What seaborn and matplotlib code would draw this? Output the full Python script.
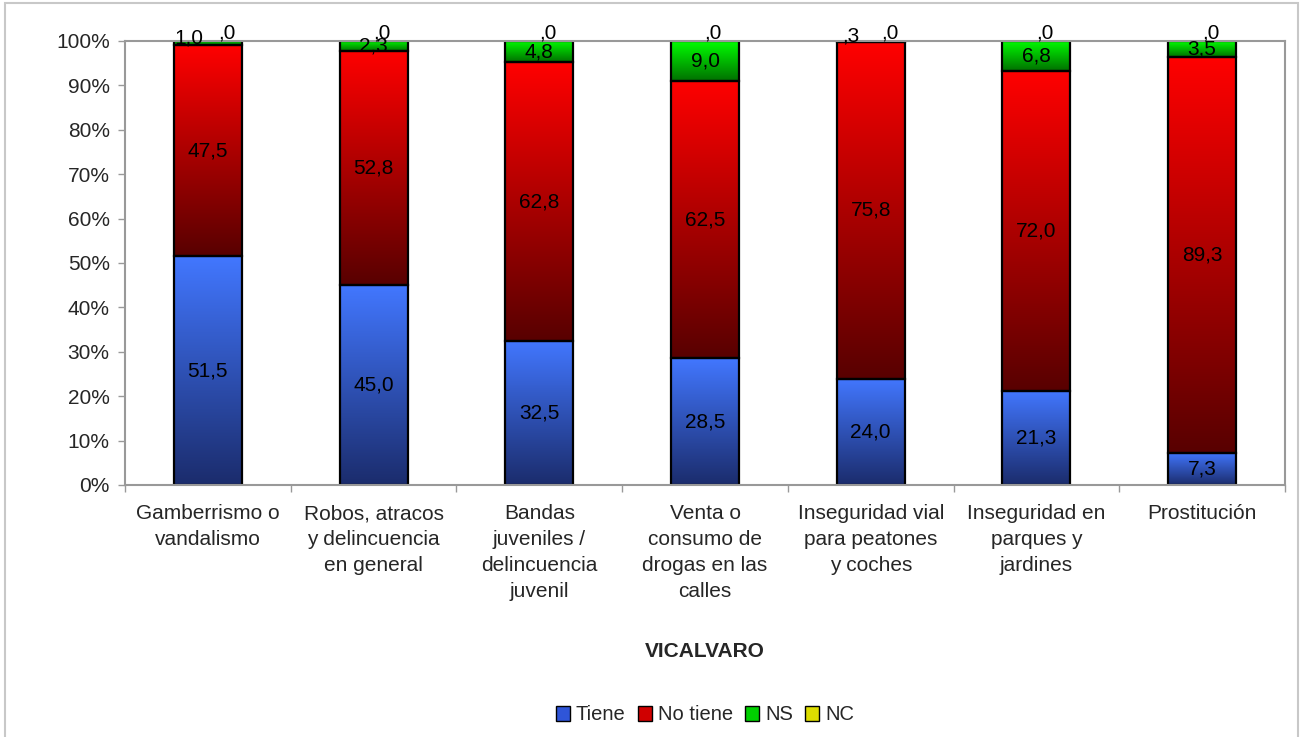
import numpy as np
import pandas as pd
import seaborn as sns
import matplotlib.pyplot as plt
from matplotlib.colors import LinearSegmentedColormap
from matplotlib.patches import Patch, Rectangle


# ==================== Data ====================

categories = [
    "Gamberrismo o\nvandalismo",
    "Robos, atracos\ny delincuencia\nen general",
    "Bandas\njuveniles /\ndelincuencia\njuvenil",
    "Venta o\nconsumo de\ndrogas en las\ncalles",
    "Inseguridad vial\npara peatones\ny coches",
    "Inseguridad en\nparques y\njardines",
    "Prostitución",
]
tiene = [51.5, 45.0, 32.5, 28.5, 24.0, 21.3, 7.3]
no_tiene = [47.5, 52.8, 62.8, 62.5, 75.8, 72.0, 89.3]
ns = [1.0, 2.3, 4.8, 9.0, 0.3, 6.8, 3.5]
nc = [0.0, 0.0, 0.0, 0.0, 0.0, 0.0, 0.0]
series_names = ["Tiene", "No tiene", "NS", "NC"]
group_title = "VICALVARO"

series_values = [tiene, no_tiene, ns, nc]

# gradient ends (bottom, top) and legend colours
grad_colors = [
    ("#1b2c6c", "#4277ff"),
    ("#580000", "#ff0000"),
    ("#007000", "#00ff00"),
    ("#8a8a00", "#ffff00"),
]
legend_colors = ["#2f55d8", "#d00000", "#00d000", "#dddd00"]


def fmt(v):
    s = f"{v:.1f}".replace(".", ",")
    return s[1:] if s.startswith("0") else s


# ---------- 100% shares
df = pd.DataFrame({name: vals for name, vals in zip(series_names, series_values)})
df.insert(0, "categoria", categories)
totals = df[series_names].sum(axis=1)
shares = df[series_names].div(totals, axis=0) * 100


# ==================== Plot ====================

sns.set_style("white")
plt.rcParams["font.family"] = ["Liberation Sans", "DejaVu Sans"]

fig = plt.figure(figsize=(13.03, 7.37), dpi=100)
ax = fig.add_axes([125 / 1303, 1 - 485 / 737, 1160 / 1303, 444 / 737])

bottom = np.zeros(len(categories))
layers = []
for name in series_names:
    n_before = len(ax.patches)
    sns.barplot(
        x=df["categoria"],
        y=shares[name],
        bottom=bottom,
        width=0.41,
        color="white",
        edgecolor="black",
        linewidth=1.6,
        errorbar=None,
        ax=ax,
    )
    layers.append(ax.patches[n_before:])
    bottom = bottom + shares[name].values

# ---------- gradient fills clipped to each bar
grad = np.linspace(0, 1, 256).reshape(-1, 1)
for patches, (c0, c1) in zip(layers, grad_colors):
    cmap = LinearSegmentedColormap.from_list("g", [c0, c1])
    for p in patches:
        h = p.get_height()
        if h <= 0:
            continue
        x0, y0, w = p.get_x(), p.get_y(), p.get_width()
        im = ax.imshow(grad, extent=(x0, x0 + w, y0, y0 + h), origin="lower",
                       cmap=cmap, aspect="auto", zorder=1.5, interpolation="bilinear")
        im.set_clip_path(p)
        p.set_facecolor("none")
        p.set_zorder(2)

ax.set_xlim(-0.5, len(categories) - 0.5)
ax.set_ylim(0, 100)

# ---------- value labels
cum = np.zeros(len(categories))
for k, name in enumerate(series_names):
    for i in range(len(categories)):
        s = shares[name].iloc[i]
        v = df[name].iloc[i]
        small = df["NS"].iloc[i] < 1.5
        if name == "NC":
            y, dx, dy = 100, (14 if small else 6), 6
        elif name == "NS":
            y, dx, dy = cum[i] + s / 2, (-14 if small else 0), (4 if small else 0)
        else:
            y, dx, dy = cum[i] + s / 2, 0, 0
        ax.annotate(fmt(v), (i, y), xytext=(dx, dy), textcoords="offset points",
                    ha="center", va="center", fontsize=15, color="black", zorder=5)
    cum = cum + shares[name].values

# ---------- axes styling
ax.set_yticks(np.arange(0, 101, 10))
ax.set_yticklabels([f"{t}%" for t in range(0, 101, 10)])
ax.tick_params(axis="y", length=5, width=1, color="#999999", pad=6, labelsize=15, left=True)
ax.tick_params(axis="x", length=0, pad=14, labelsize=15)
ax.set_xticks(np.arange(-0.5, len(categories), 1), minor=True)
ax.tick_params(axis="x", which="minor", length=5, width=1, color="#999999", bottom=True)
for lab in ax.get_xticklabels():
    lab.set_linespacing(1.45)
ax.set_ylabel("")
ax.set_xlabel(group_title, fontsize=15, fontweight="bold", labelpad=30)
for sp in ax.spines.values():
    sp.set_visible(True)
    sp.set_color("#999999")
    sp.set_linewidth(1.5)

# ---------- legend
handles = [Patch(facecolor=c, edgecolor="black", linewidth=1) for c in legend_colors]
fig.legend(handles, series_names, loc="center", bbox_to_anchor=(705 / 1303, 1 - 715 / 737),
           ncol=4, frameon=False, fontsize=14.5, handlelength=0.7, handleheight=0.7,
           handletextpad=0.3, columnspacing=0.6)

# ---------- outer chart border
fig.patches.append(Rectangle((5 / 1303, -0.01), 1293 / 1303, 1 - 3 / 737 + 0.01,
                             transform=fig.transFigure, fill=False,
                             edgecolor="#c8c8c8", linewidth=1.5))

plt.savefig("out.png", dpi=100)
